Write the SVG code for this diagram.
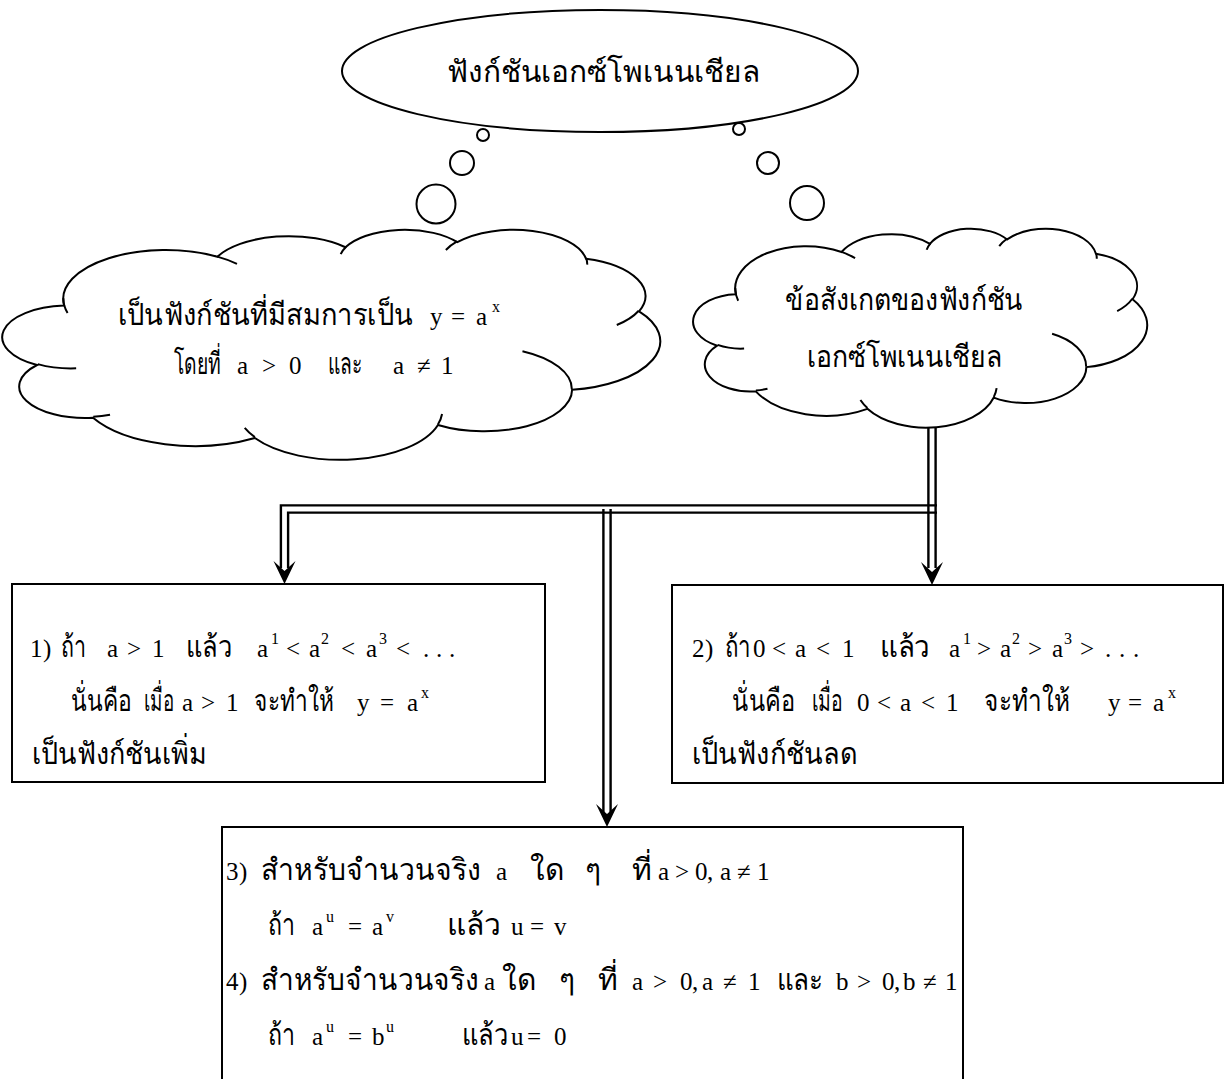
<svg xmlns="http://www.w3.org/2000/svg" xmlns:xlink="http://www.w3.org/1999/xlink" width="1225" height="1079" viewBox="0 0 1225 1079">
<style>
.sh{fill:#fff;stroke:#000;stroke-width:2}
.cl{fill:#fff;stroke:#000;stroke-width:2}
.ci{fill:none;stroke:#000;stroke-width:2}
.dl{fill:none;stroke:#000;stroke-width:2.4}
.t{font-family:'Liberation Serif','Noto Sans',serif;fill:#000}
.th{font-size:30px}
.m{font-size:25px}
.s{font-size:16px}
</style>
<defs>
<path id="cloudOuter" vector-effect="non-scaling-stroke" d="M3900 14370 A6753 9190 0 0 1 14005 5202 A5333 7267 0 0 1 22455 3432 A4365 5945 0 0 1 29832 2481 A4857 6595 0 0 1 38318 5576 A5333 7273 0 0 1 41818 15460 A6775 9220 0 0 1 37404 30202 A5785 7867 0 0 1 28555 36812 A6752 9215 0 0 1 16479 39263 A7720 10543 0 0 1 5804 35469 A4360 5918 0 0 1 2113 25547 A4345 5945 0 0 1 3900 14370 Z"/>
<path id="cloudInner" vector-effect="non-scaling-stroke" d="M4693 26177 A4345 5945 0 0 1 2160 25380 M6928 34899 A4360 5918 0 0 1 5820 35280 M16478 39090 A6752 9215 0 0 1 15811 37351 M28827 34751 A6752 9215 0 0 1 28560 36660 M34129 22954 A5785 7867 0 0 1 37381 30090 M41798 15354 A5333 7273 0 0 1 40349 18031 M38324 5426 A4857 6595 0 0 1 38400 6689 M29078 3952 A4857 6595 0 0 1 29819 2341 M22141 4720 A4365 5945 0 0 1 22500 3330 M14000 5192 A6753 9190 0 0 1 15300 6540 M4127 15789 A6753 9190 0 0 1 3857 12998"/>
<path id="arrow" d="M0 0 L-11 -23 L0 -13 L11 -23 Z" fill="#000"/>
</defs>

<g id="node-title">
<ellipse class="sh" cx="600" cy="71" rx="258" ry="61"/>
<text class="t th" y="82"><tspan x="447" textLength="313" lengthAdjust="spacingAndGlyphs">ฟังก์ชันเอกซ์โพเนนเชียล</tspan></text>
</g>

<g id="thought-bubbles">
<circle class="sh" cx="483" cy="135" r="6"/>
<circle class="sh" cx="462" cy="163" r="12"/>
<circle class="sh" cx="436" cy="204" r="19.5"/>
<circle class="sh" cx="739" cy="129" r="6"/>
<circle class="sh" cx="768" cy="163" r="11"/>
<circle class="sh" cx="807" cy="203" r="17"/>
</g>

<g id="node-definition">
<g transform="translate(5,229) scale(0.015162,0.0053241)">
<use xlink:href="#cloudOuter" class="cl"/>
<use xlink:href="#cloudInner" class="ci"/>
</g>
<text class="t" y="325"><tspan class="th" x="118" textLength="295" lengthAdjust="spacingAndGlyphs">เป็นฟังก์ชันที่มีสมการเป็น</tspan><tspan class="m" x="430 451 476">y=a</tspan><tspan class="s" x="492" y="312">x</tspan></text>
<text class="t" y="374"><tspan class="th" x="174" textLength="47" lengthAdjust="spacingAndGlyphs">โดยที่</tspan><tspan class="m" x="237 262 289">a&gt;0</tspan><tspan class="th" x="328" textLength="34" lengthAdjust="spacingAndGlyphs">และ</tspan><tspan class="m" x="393 417 441">a≠1</tspan></text>
</g>

<g id="node-observation">
<g transform="translate(695,228) scale(0.010463,0.0046065)">
<use xlink:href="#cloudOuter" class="cl"/>
<use xlink:href="#cloudInner" class="ci"/>
</g>
<text class="t th" y="310"><tspan x="785" textLength="238" lengthAdjust="spacingAndGlyphs">ข้อสังเกตของฟังก์ชัน</tspan></text>
<text class="t th" y="367"><tspan x="807" textLength="195" lengthAdjust="spacingAndGlyphs">เอกซ์โพเนนเชียล</tspan></text>
</g>

<g id="connectors">
<path class="dl" d="M928.4 427 V568 M935.6 427 V568"/>
<path class="dl" d="M937 505.4 H280.9 V568 M937 512.6 H288.1 V568"/>
<path class="dl" d="M603.4 509 V812 M610.6 509 V812"/>
</g>

<g id="node-increasing">
<rect class="sh" x="12" y="584" width="533" height="198"/>
<text class="t" y="657"><tspan class="m" x="30 43">1)</tspan><tspan class="th" x="61" textLength="25" lengthAdjust="spacingAndGlyphs">ถ้า</tspan><tspan class="m" x="107 127 152">a&gt;1</tspan><tspan class="th" x="186" textLength="46" lengthAdjust="spacingAndGlyphs">แล้ว</tspan><tspan class="m" x="257">a</tspan><tspan class="s" x="271" y="644">1</tspan><tspan class="m" x="286 309" y="657">&lt;a</tspan><tspan class="s" x="321" y="644">2</tspan><tspan class="m" x="341 366" y="657">&lt;a</tspan><tspan class="s" x="379" y="644">3</tspan><tspan class="m" x="396 423 436 449" y="657">&lt;...</tspan></text>
<text class="t" y="711"><tspan class="th" x="71" textLength="61" lengthAdjust="spacingAndGlyphs">นั่นคือ</tspan><tspan class="th" x="144" textLength="30" lengthAdjust="spacingAndGlyphs">เมื่อ</tspan><tspan class="m" x="182 201 226">a&gt;1</tspan><tspan class="th" x="254" textLength="80" lengthAdjust="spacingAndGlyphs">จะทำให้</tspan><tspan class="m" x="357 380 407">y=a</tspan><tspan class="s" x="421" y="698">x</tspan></text>
<text class="t th" y="764"><tspan x="32" textLength="175" lengthAdjust="spacingAndGlyphs">เป็นฟังก์ชันเพิ่ม</tspan></text>
</g>

<g id="node-decreasing">
<rect class="sh" x="672" y="585" width="551" height="198"/>
<text class="t" y="657"><tspan class="m" x="692 705">2)</tspan><tspan class="th" x="725" textLength="26" lengthAdjust="spacingAndGlyphs">ถ้า</tspan><tspan class="m" x="753 772 795 816 842">0&lt;a&lt;1</tspan><tspan class="th" x="880" textLength="50" lengthAdjust="spacingAndGlyphs">แล้ว</tspan><tspan class="m" x="949">a</tspan><tspan class="s" x="963" y="644">1</tspan><tspan class="m" x="977 1000" y="657">&gt;a</tspan><tspan class="s" x="1012" y="644">2</tspan><tspan class="m" x="1028 1052" y="657">&gt;a</tspan><tspan class="s" x="1064" y="644">3</tspan><tspan class="m" x="1080 1105 1119 1133" y="657">&gt;...</tspan></text>
<text class="t" y="711"><tspan class="th" x="732" textLength="63" lengthAdjust="spacingAndGlyphs">นั่นคือ</tspan><tspan class="th" x="812" textLength="31" lengthAdjust="spacingAndGlyphs">เมื่อ</tspan><tspan class="m" x="857 877 900 921 946">0&lt;a&lt;1</tspan><tspan class="th" x="984" textLength="86" lengthAdjust="spacingAndGlyphs">จะทำให้</tspan><tspan class="m" x="1108 1128 1153">y=a</tspan><tspan class="s" x="1168" y="698">x</tspan></text>
<text class="t th" y="764"><tspan x="692" textLength="165" lengthAdjust="spacingAndGlyphs">เป็นฟังก์ชันลด</tspan></text>
</g>

<g id="node-properties">
<rect class="sh" x="222" y="827" width="741" height="262"/>
<text class="t" y="880"><tspan class="m" x="226 239">3)</tspan><tspan class="th" x="261" textLength="220" lengthAdjust="spacingAndGlyphs">สำหรับจำนวนจริง</tspan><tspan class="m" x="496">a</tspan><tspan class="th" x="530">ใด</tspan><tspan class="th" x="585">ๆ</tspan><tspan class="th" x="632">ที่</tspan><tspan class="m" x="658 675 695 707 720 737 757">a&gt;0,a≠1</tspan></text>
<text class="t" y="935"><tspan class="th" x="268" textLength="27" lengthAdjust="spacingAndGlyphs">ถ้า</tspan><tspan class="m" x="312">a</tspan><tspan class="s" x="326" y="922">u</tspan><tspan class="m" x="348 372" y="935">=a</tspan><tspan class="s" x="386" y="922">v</tspan><tspan class="th" x="447" y="935" textLength="54" lengthAdjust="spacingAndGlyphs">แล้ว</tspan><tspan class="m" x="511 530 554">u=v</tspan></text>
<text class="t" y="990"><tspan class="m" x="226 239">4)</tspan><tspan class="th" x="261" textLength="218" lengthAdjust="spacingAndGlyphs">สำหรับจำนวนจริง</tspan><tspan class="m" x="484">a</tspan><tspan class="th" x="502">ใด</tspan><tspan class="th" x="559">ๆ</tspan><tspan class="th" x="598">ที่</tspan><tspan class="m" x="632 653 680 692 702 723 748">a&gt;0,a≠1</tspan><tspan class="th" x="777" textLength="46" lengthAdjust="spacingAndGlyphs">และ</tspan><tspan class="m" x="836 857 882 894 903 923 945">b&gt;0,b≠1</tspan></text>
<text class="t" y="1045"><tspan class="th" x="268" textLength="27" lengthAdjust="spacingAndGlyphs">ถ้า</tspan><tspan class="m" x="312">a</tspan><tspan class="s" x="326" y="1032">u</tspan><tspan class="m" x="348 372" y="1045">=b</tspan><tspan class="s" x="386" y="1032">u</tspan><tspan class="th" x="462" y="1045" textLength="46" lengthAdjust="spacingAndGlyphs">แล้ว</tspan><tspan class="m" x="511 527 554">u=0</tspan></text>
</g>

<g id="arrowheads">
<use xlink:href="#arrow" x="284.5" y="584"/>
<use xlink:href="#arrow" x="932" y="585"/>
<use xlink:href="#arrow" x="607" y="827"/>
</g>
</svg>
